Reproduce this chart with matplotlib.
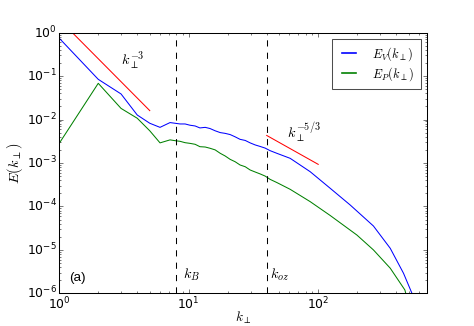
import matplotlib
matplotlib.use('Agg')
import matplotlib.pyplot as plt

plt.style.use('classic')

# velocity spectrum E_V(k_perp)
k_v = [1, 2, 3, 4, 5, 6, 7.17, 7.84, 8.57, 9.37, 10.2, 11.2, 12.2, 13.4, 14.6, 16.0,
       17.5, 19.1, 20.9, 22.8, 24.9, 27.3, 29.8, 32.6, 35.6, 38.9, 42.5, 47.9, 60.7,
       86.7, 123.7, 176.6, 267, 360, 456, 530, 560]
E_v = [0.74, 0.084, 0.0387, 0.0127, 0.0082, 0.0066, 0.0085, 0.0082, 0.0079, 0.0079,
       0.0074, 0.0071, 0.0064, 0.0066, 0.0062, 0.0055, 0.0050, 0.0048, 0.0045, 0.0040,
       0.0035, 0.0033, 0.0029, 0.0026, 0.0024, 0.0022, 0.00192, 0.00167, 0.00128,
       6.3e-4, 2.62e-4, 1.08e-4, 3.55e-5, 1.09e-5, 2.9e-6, 1.0e-6, 6.8e-7]

# potential spectrum E_P(k_perp)
k_p = [1, 2, 3, 4, 5, 6, 7.17, 7.84, 8.57, 9.37, 10.2, 11.2, 12.2, 13.4, 14.6, 16.0,
       17.5, 19.1, 20.9, 22.8, 24.9, 27.3, 29.8, 32.6, 35.6, 38.9, 42.5, 47.9, 60.7,
       86.7, 123.7, 199, 267, 360, 467, 490]
E_p = [0.00284, 0.068, 0.018, 0.0107, 0.0055, 0.0029, 0.0034, 0.00326, 0.00315,
       0.00293, 0.00283, 0.00269, 0.00237, 0.00233, 0.00218, 0.0020, 0.00167, 0.00145,
       0.00121, 0.00107, 9.0e-4, 8.2e-4, 6.9e-4, 6.2e-4, 5.6e-4, 5.0e-4, 4.2e-4,
       3.55e-4, 2.48e-4, 1.29e-4, 6.2e-5, 2.2e-5, 1.0e-5, 3.8e-6, 1.2e-6, 7e-7]

# reference slopes
k3_x = [1, 5]
k3_y = [2.0, 0.016]
k53_x = [40, 100]
k53_y = [0.0043, 9.3e-4]

k_B = 8
k_oz = 40

fig = plt.figure(figsize=(6.4, 4.4), dpi=74.1, facecolor='w')
ax = fig.add_subplot(111)

ax.loglog(k_v, E_v, color='b', ls='-', lw=1, label=r'$E_V(k_\perp)$')
ax.loglog(k_p, E_p, color='g', ls='-', lw=1, label=r'$E_P(k_\perp)$')
ax.loglog(k3_x, k3_y, 'r-', lw=1)
ax.loglog(k53_x, k53_y, 'r-', lw=1)
ax.axvline(k_B, color='k', ls='--', lw=1)
ax.axvline(k_oz, color='k', ls='--', lw=1)

ax.text(3.0, 0.23, r'$k_\perp^{-3}$', fontsize=14, va='center')
ax.text(57, 4.9e-3, r'$k_\perp^{-5/3}$', fontsize=14, va='center')
ax.text(9.0, 2.65e-6, r'$k_B$', fontsize=14, va='center')
ax.text(42.5, 2.65e-6, r'$k_{oz}$', fontsize=14, va='center')
ax.text(0.027, 0.061, '(a)', transform=ax.transAxes, fontsize=13,
        family='Liberation Sans', va='center')

ax.set_xlim(1, 690)
ax.set_ylim(1e-6, 1)
ax.set_xlabel(r'$k_\perp$', fontsize=13, labelpad=-2)
ax.set_ylabel(r'$E(k_\perp)$', fontsize=14, labelpad=2)
ax.tick_params(labelsize=12, pad=2)
leg = ax.legend(loc='upper right', fontsize=12, borderpad=0.5, labelspacing=0.2,
                handlelength=1.8, handletextpad=1.0)
leg.get_frame().set_edgecolor('0.3')
for line in leg.get_lines():
    line.set_linewidth(1.6)

fig.savefig('out.png', dpi=74.1, facecolor='w')
